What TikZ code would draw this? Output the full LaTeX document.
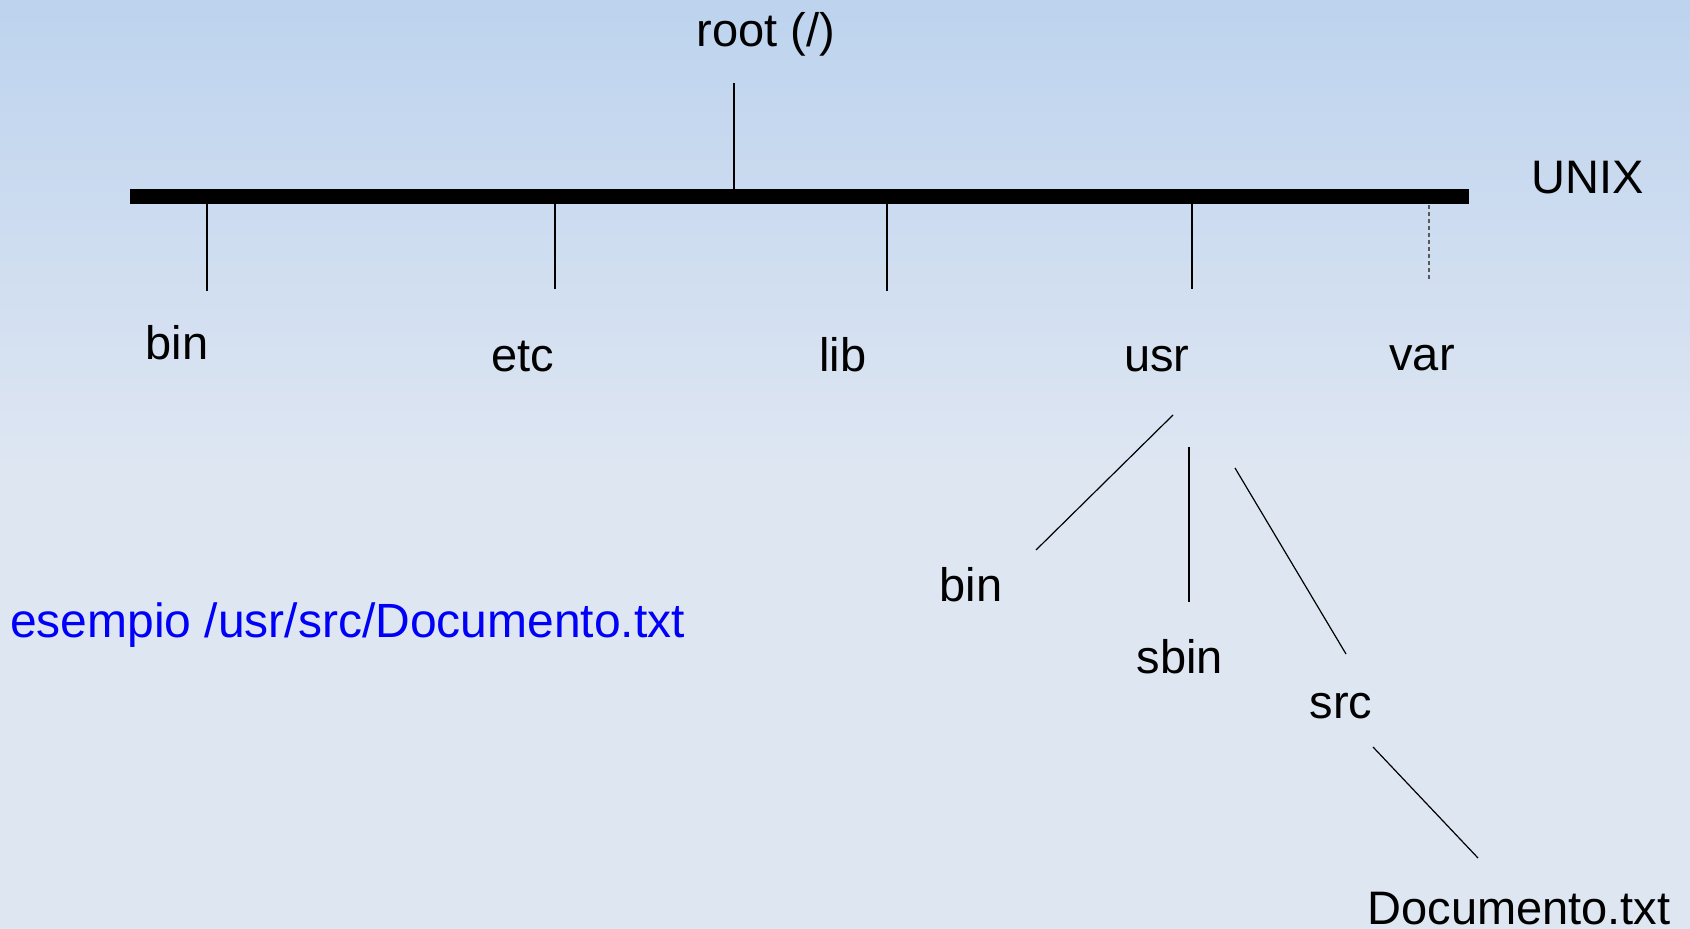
\documentclass[tikz,border=0pt]{standalone}
\usepackage{fontspec}
\setmainfont{Liberation Sans}
\definecolor{skytop}{RGB}{189,211,238}
\definecolor{skylow}{RGB}{222,230,242}
\definecolor{linkblue}{RGB}{0,0,250}
\tikzset{
  label/.style={inner sep=0pt, anchor=base, font=\fontsize{47}{56}\selectfont},
  branch/.style={line width=1.2pt, black},
  trunk/.style={line width=15pt, black},
}
\begin{document}
\begin{tikzpicture}[x=1pt,y=-1pt]
\useasboundingbox (0,0) rectangle (1690,929);
% background
\shade[top color=skytop, bottom color=skylow] (0,0) rectangle (1690,470);
\fill[skylow] (0,469) rectangle (1690,929);

% labels
\node[label] (root) at (766,46) {root (/)};
\node[label] (unix) at (1588,193) {UNIX};
\node[label] (bin)  at (177,359) {bin};
\node[label] (etc)  at (523,371) {etc};
\node[label] (lib)  at (843,371) {lib};
\node[label] (usr)  at (1157,371) {usr};
\node[label] (var)  at (1422,370) {var};
\node[label] (ubin) at (971,601) {bin};
\node[label] (sbin) at (1180,673) {sbin};
\node[label] (src)  at (1341,718) {src};
\node[label] (doc)  at (1519,924) {Documento.txt};
\node[label, anchor=base west, text=linkblue, font=\fontsize{48}{56}\selectfont] (example) at (10,637) {esempio /usr/src/Documento.txt};

% line end points
\coordinate (barL) at (130,196.5);
\coordinate (barR) at (1469,196.5);
\coordinate (rootA) at (734,83);   \coordinate (rootB) at (734,189);
\coordinate (binA) at (207,204);   \coordinate (binB) at (207,291);
\coordinate (etcA) at (555,204);   \coordinate (etcB) at (555,289);
\coordinate (libA) at (887,204);   \coordinate (libB) at (887,291);
\coordinate (usrA) at (1192,204);  \coordinate (usrB) at (1192,289);
\coordinate (varA) at (1429,205);  \coordinate (varB) at (1429,279);
\coordinate (ubinA) at (1173,415); \coordinate (ubinB) at (1036,550);
\coordinate (sbinA) at (1189,447); \coordinate (sbinB) at (1189,602);
\coordinate (srcA) at (1235,468);  \coordinate (srcB) at (1346,654);
\coordinate (docA) at (1373,747);  \coordinate (docB) at (1478,858);

% the root bar
\draw[trunk] (barL) -- (barR);

% branches
\draw[branch] (rootA) -- (rootB);
\draw[branch] (binA) -- (binB);
\draw[branch] (etcA) -- (etcB);
\draw[branch] (libA) -- (libB);
\draw[branch] (usrA) -- (usrB);
\draw[line width=1.2pt, black!65, dash pattern=on 4pt off 3pt] (varA) -- (varB);
\draw[branch] (ubinA) -- (ubinB);
\draw[branch] (sbinA) -- (sbinB);
\draw[branch] (srcA) -- (srcB);
\draw[branch] (docA) -- (docB);
\end{tikzpicture}
\end{document}
